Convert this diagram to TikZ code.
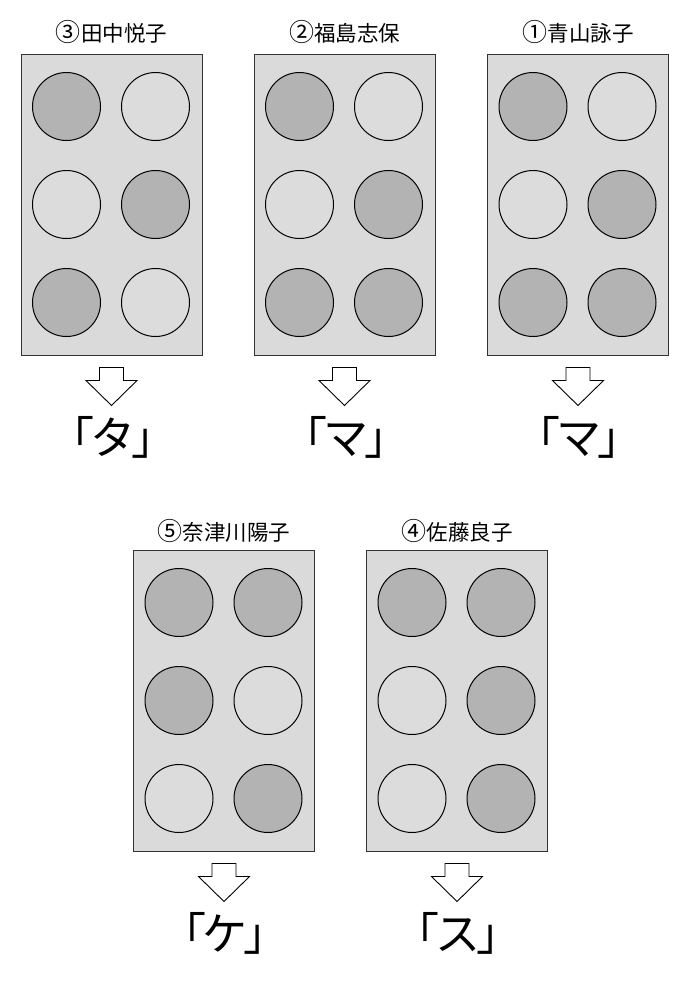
\documentclass[tikz,border=0pt]{standalone}
\usepackage{fontspec}
\newfontfamily\jp{Noto Sans CJK JP}
\definecolor{cardfill}{HTML}{DADADA}
\definecolor{lightdot}{HTML}{DCDCDC}
\definecolor{darkdot}{HTML}{B3B3B3}
\definecolor{cardline}{HTML}{333333}
\newcommand{\cnum}[1]{{\fontsize{25}{24}\selectfont #1}}
\tikzset{
  card/.style={draw=cardline, line width=1pt, fill=cardfill, minimum width=181pt, minimum height=301pt, inner sep=0pt},
  dotL/.style={circle, draw=black, line width=1pt, fill=lightdot, minimum size=68pt, inner sep=0pt},
  dotD/.style={circle, draw=black, line width=1pt, fill=darkdot, minimum size=68pt, inner sep=0pt},
  namelabel/.style={font=\jp\fontsize{21.5}{24}\selectfont, inner sep=0pt},
  bigchar/.style={font=\jp\fontsize{45}{50}\selectfont, inner sep=0pt},
  downarrow/.style={draw=black, line width=0.9pt, fill=white},
}
\begin{document}
\begin{tikzpicture}[x=1pt,y=-1pt]
\useasboundingbox[fill=white] (0,0) rectangle (690,997);
% name, cx, cy, number, name, pattern (6 entries: D/L), result, labeloffset
\foreach \id/\cx/\cy/\num/\lab/\a/\b/\c/\d/\e/\f/\res/\lo in {
  c3/111.5/204.5/③/田中悦子/D/L/L/D/D/L/タ/21,
  c2/344.5/204.5/②/福島志保/D/L/L/D/D/D/マ/21,
  c1/578/204.5/①/青山詠子/D/L/L/D/D/D/マ/21,
  c5/224/700.5/⑤/奈津川陽子/D/D/D/L/L/D/ケ/18,
  c4/457/700.5/④/佐藤良子/D/D/L/D/L/D/ス/18}
{
  \node[card] (\id) at (\cx,\cy) {};
  \node[namelabel, anchor=base] (\id-name) at (\cx,\cy-150.5-\lo+8) {\cnum{\num}\lab};
  \node[dot\a] (\id-11) at (\cx-45,\cy-98) {};
  \node[dot\b] (\id-12) at (\cx+44,\cy-98) {};
  \node[dot\c] (\id-21) at (\cx-45,\cy) {};
  \node[dot\d] (\id-22) at (\cx+44,\cy) {};
  \node[dot\e] (\id-31) at (\cx-45,\cy+98) {};
  \node[dot\f] (\id-32) at (\cx+44,\cy+98) {};
  \coordinate (\id-arr) at ([yshift=-12pt]\id.south);
  \draw[downarrow] ([xshift=-12pt]\id-arr) -- ([xshift=12pt]\id-arr)
     -- ++(0,13) -- ++(13.5,0) -- ++(-25.5,25) -- ++(-25.5,-25) -- ++(13.5,0) -- cycle;
  \node[bigchar] (\id-res) at ([yshift=-82pt,xshift=1pt]\id.south) {「\hspace{-4pt}\res\hspace{-4pt}」};
}
\end{tikzpicture}
\end{document}
